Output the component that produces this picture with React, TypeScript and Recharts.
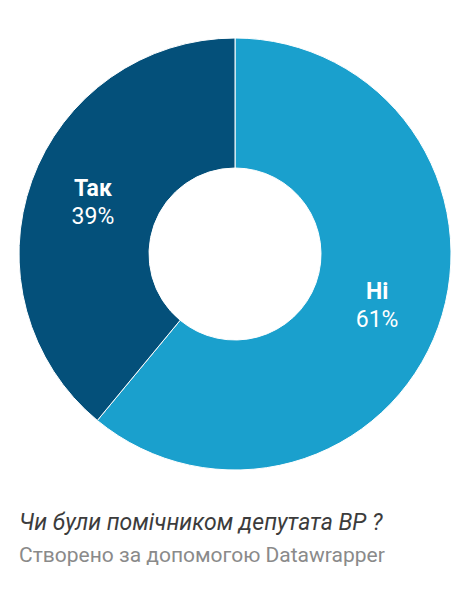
import React from "react";
import { PieChart, Pie, Cell } from "recharts";

const categories = ["Ні", "Так"];
const values = [61, 39];
const colors = ["#1aa0cd", "#04507a"];

const title = "Чи були помічником депутата ВР ?";
const footer = "Створено за допомогою Datawrapper";

const data = categories.map((name, i) => ({ name, value: values[i] }));

const RADIAN = Math.PI / 180;

const renderLabel = (props: any) => {
  const { cx, cy, midAngle, innerRadius, outerRadius, name, value } = props;
  const r = (innerRadius + outerRadius) / 2;
  const x = cx + r * Math.cos(-midAngle * RADIAN);
  const y = cy + r * Math.sin(-midAngle * RADIAN);
  return (
    <g>
      <text
        x={x}
        y={y - 14}
        fill="#ffffff"
        textAnchor="middle"
        dominantBaseline="central"
        fontFamily="Roboto"
        fontWeight={700}
        fontSize={23}
      >
        {name}
      </text>
      <text
        x={x}
        y={y + 14}
        fill="#ffffff"
        textAnchor="middle"
        dominantBaseline="central"
        fontFamily="Roboto"
        fontWeight={400}
        fontSize={23}
      >
        {value}%
      </text>
    </g>
  );
};

export default function App() {
  return (
    <div style={{ position: "relative", width: 455, height: 573, fontFamily: "Roboto" }}>
      <PieChart width={455} height={480}>
        <Pie
          data={data}
          dataKey="value"
          nameKey="name"
          cx={222}
          cy={241}
          innerRadius={86}
          outerRadius={216}
          startAngle={90}
          endAngle={-270}
          stroke="#ffffff"
          strokeWidth={1}
          label={renderLabel}
          labelLine={false}
          isAnimationActive={false}
        >
          {data.map((d, i) => (
            <Cell key={d.name} fill={colors[i]} />
          ))}
        </Pie>
      </PieChart>
      <div
        style={{
          position: "absolute",
          left: 11,
          top: 503,
          fontSize: 23,
          fontStyle: "italic",
          color: "#3c3c3c",
          whiteSpace: "nowrap",
          lineHeight: "23px",
        }}
      >
        {title}
      </div>
      <div
        style={{
          position: "absolute",
          left: 11,
          top: 537,
          fontSize: 21,
          color: "#8a8a8a",
          whiteSpace: "nowrap",
          lineHeight: "21px",
        }}
      >
        {footer}
      </div>
    </div>
  );
}
